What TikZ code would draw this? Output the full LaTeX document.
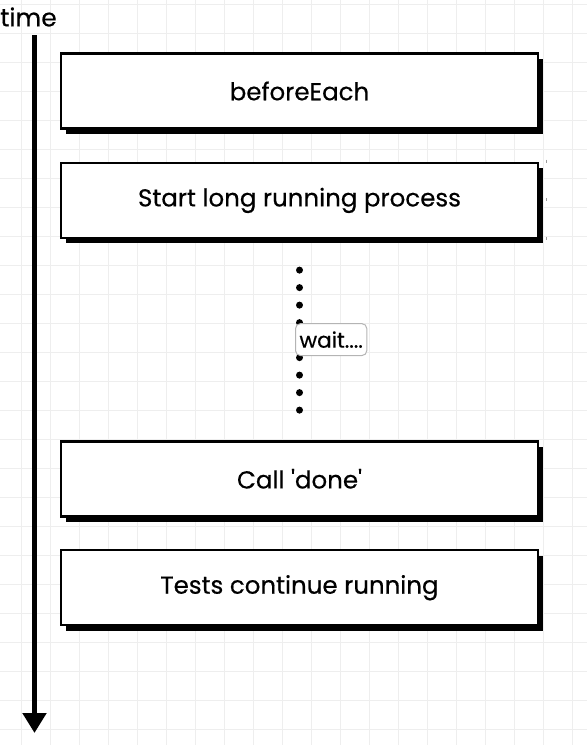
\documentclass[tikz,border=0pt]{standalone}
\usepackage{fontspec}
\setmainfont{Poppins}[FakeBold=0.4]
\usetikzlibrary{arrows.meta,positioning,shadows}
\definecolor{gridgray}{HTML}{EEEEEE}
\definecolor{tagedge}{HTML}{B4B4B4}
\definecolor{handlegray}{HTML}{9A9A9A}

\begin{document}
\begin{tikzpicture}[
 x=1pt,y=-1pt,
 stepbox/.style={draw=black,line width=2.4pt,fill=white,minimum width=477pt,minimum height=75pt,
  font=\fontsize{24.5}{29}\selectfont,
  drop shadow={shadow xshift=4.5pt,shadow yshift=-5.5pt,fill=black,opacity=1}},
 waittag/.style={draw=tagedge,solid,line width=1pt,rounded corners=5pt,fill=white,inner xsep=4pt,inner ysep=3pt,
  minimum height=32pt,font=\fontsize{21.5}{24}\selectfont},
 gridln/.style={draw=gridgray,line width=1pt},
 timearr/.style={-{Triangle[width=23pt,length=20pt]},line width=5pt,draw=black},
 dots/.style={line width=7pt,line cap=round,dash pattern=on 0pt off 17.5pt,shorten <=31pt,shorten >=29pt}
]
\useasboundingbox (0,0) rectangle (587,745);
% background grid
\foreach \gx in {-8,21,...,600} \draw[gridln] (\gx,0) -- (\gx,745);
\foreach \gy in {4,33,...,760} \draw[gridln] (0,\gy) -- (587,\gy);

\node[font=\fontsize{25}{30}\selectfont,inner sep=0pt] (timelbl) at (28.5,17) {time};
\coordinate (tstart) at (34.5,35);
\coordinate (tend) at (34.5,733);
\draw[timearr] (tstart) -- (tend);

\node[stepbox] (before) at (299.5,91) {beforeEach};
\node[stepbox,below=32pt of before] (start) {Start long running process};
\node[stepbox,below=201pt of start] (call) {Call \textquotesingle done\textquotesingle};
\node[stepbox,below=31.5pt of call] (tests) {Tests continue running};

\draw[dots] (start) -- node[waittag,anchor=west,xshift=-4.5pt,pos=0.5]{wait....} (call);

% selection handles
\foreach \hx in {north east,east,south east}
 \draw[handlegray,line width=0.6pt] ([xshift=7pt,yshift=2pt]start.\hx) -- ++(0,3);
\end{tikzpicture}
\end{document}
